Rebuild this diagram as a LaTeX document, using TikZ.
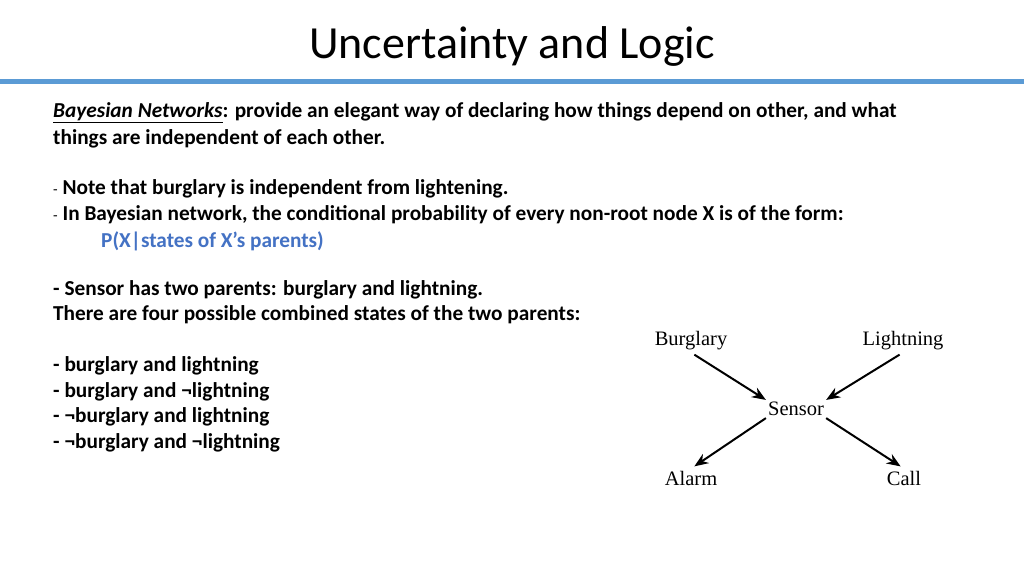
\documentclass[tikz,border=0pt]{standalone}
\usepackage{fontspec}
\setmainfont{Carlito}
\newfontfamily\graphfont{Liberation Serif}
\usepackage{xcolor}
\definecolor{rulecolor}{RGB}{91,155,213}
\definecolor{formulablue}{RGB}{68,114,196}
\usetikzlibrary{arrows.meta, positioning}

\begin{document}
\begin{tikzpicture}[
            x=1pt, y=-1pt,
            textline/.style={anchor=west, inner sep=0pt, yshift=-2pt, font=\fontsize{21.3}{23}\selectfont\bfseries},
            graphnode/.style={inner sep=2pt, font=\fontsize{20.5}{22}\selectfont\graphfont},
            edge/.style={-{Stealth[length=14pt, width=11pt]}, line width=2pt}
            ]
            \useasboundingbox (0,0) rectangle (1024,576);

            % Title and rule
            \node[inner sep=0pt, font=\fontsize{46}{50}\selectfont] (title) at (512,46) {Uncertainty and Logic};
            \fill[rulecolor] (0,78.5) rectangle (1024,83.5);

            % Body text
            \node[textline] (l1) at (53,111) {\underline{\itshape Bayesian Networks}: provide an elegant way of declaring how things depend on other, and what};
            \node[textline] (l2) at (53,137) {things are independent of each other.};
            \node[textline] (l3) at (53,187) {{\mdseries\fontsize{15}{16}\selectfont -} Note that burglary is independent from lightening.};
            \node[textline] (l4) at (53,213) {{\mdseries\fontsize{15}{16}\selectfont -} In Bayesian network, the conditional probability of every non-root node X is of the form:};
            \node[textline, text=formulablue] (l5) at (101,239) {P(X|states of X’s parents)};
            \node[textline] (l6) at (53,288) {- Sensor has two parents: burglary and lightning.};
            \node[textline] (l7) at (53,313) {There are four possible combined states of the two parents:};
            \foreach \y/\txt [count=\i] in {
                364/burglary and lightning,
                390/burglary and ¬lightning,
                415/¬burglary and lightning,
                441/¬burglary and ¬lightning
            } {
                \node[textline] (s\i) at (53,\y) {- \txt};
            }

            % Network
            \node[graphnode] (burglary) at (691,341) {Burglary};
            \node[graphnode] (lightning) at (903,341) {Lightning};
            \node[graphnode] (sensor) at (796,409) {Sensor};
            \node[graphnode] (alarm) at (691,478) {Alarm};
            \node[graphnode] (call) at (904,478) {Call};

            \draw[edge, shorten <=4pt] (burglary.south) -- (sensor.north west);
            \draw[edge, shorten <=4pt] (lightning.south) -- (sensor.north east);
            \draw[edge, shorten >=4pt] (sensor.south west) -- (alarm.north);
            \draw[edge, shorten >=4pt] (sensor.south east) -- (call.north);
\end{tikzpicture}
\end{document}
